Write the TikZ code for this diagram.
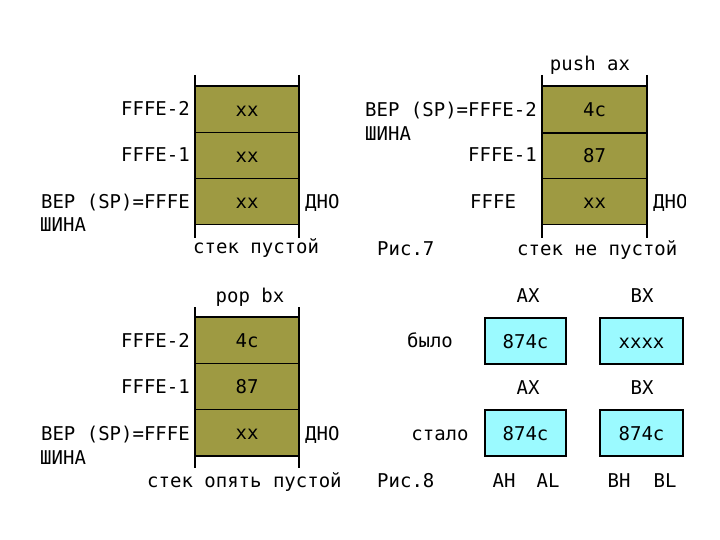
\documentclass[tikz,border=0pt]{standalone}
\usepackage{fontspec}
\setmainfont{DejaVu Sans Mono}
\definecolor{stackolive}{RGB}{158,154,66}
\definecolor{regcyan}{RGB}{155,250,255}

\begin{document}
\begin{tikzpicture}[x=1pt,y=-1pt,
  every node/.style={font=\fontsize{19}{21}\selectfont, inner sep=0pt,
    text height=14pt, text depth=0pt},
  cell/.style={draw, line width=1.2pt, fill=stackolive, minimum width=103pt,
    minimum height=46pt, anchor=north west},
  wall/.style={line width=2.4pt},
  reg/.style={draw, line width=2pt, fill=regcyan, minimum width=81pt,
    minimum height=46pt, anchor=north west}]
\useasboundingbox (0,0) rectangle (720,540);

% stack before push
\foreach \t [count=\i] in {xx,xx,xx}
  \node[cell] (s1c\i) at (195,{86+46*(\i-1)}) {\t};
\draw[wall] ([yshift=11pt]s1c1.north west) -- ([yshift=-13pt]s1c3.south west);
\draw[wall] ([yshift=11pt]s1c1.north east) -- ([yshift=-13pt]s1c3.south east);
\draw[wall] (s1c1.north west) -- (s1c1.north east);
\node[anchor=east] (s1a2) at (190,109) {FFFE-2};
\node[anchor=east] (s1a1) at (190,155) {FFFE-1};
\node[anchor=east] (s1a0) at (190,202) {ВЕР (SP)=FFFE};
\node[anchor=west] (s1bus) at (40,225) {ШИНА};
\node[anchor=west] (s1bot) at (305,202) {ДНО};
\node[anchor=west] (s1cap) at (193,247) {стек пустой};

% stack after push ax
\foreach \t [count=\i] in {4c,87,xx}
  \node[cell, minimum width=104pt] (s2c\i) at (542,{86+46*(\i-1)}) {\t};
\draw[wall] ([yshift=11pt]s2c1.north west) -- ([yshift=-13pt]s2c3.south west);
\draw[wall] ([yshift=11pt]s2c1.north east) -- ([yshift=-13pt]s2c3.south east);
\draw[wall] (s2c1.north west) -- (s2c1.north east);
\draw[wall] (s2c1.south west) -- (s2c1.south east);
\node (s2op) at (590,64) {push ax};
\node[anchor=east] (s2a2) at (537,110) {ВЕР (SP)=FFFE-2};
\node[anchor=west] (s2bus) at (365,134) {ШИНА};
\node[anchor=east] (s2a1) at (537,155) {FFFE-1};
\node[anchor=west] (s2a0) at (470,202) {FFFE};
\begin{scope}
  \clip (640,180) rectangle (685,225);
  \node[anchor=west] (s2bot) at (653,202) {ДНО};
\end{scope}
\node[anchor=west] (fig7) at (377,248) {Рис.7};
\node[anchor=west] (s2cap) at (517,248) {стек не пустой};

% stack after pop bx
\foreach \t [count=\i] in {4c,87,xx}
  \node[cell] (s3c\i) at (195,{317+46*(\i-1)}) {\t};
\draw[wall] ([yshift=10pt]s3c1.north west) -- ([yshift=-12pt]s3c3.south west);
\draw[wall] ([yshift=10pt]s3c1.north east) -- ([yshift=-12pt]s3c3.south east);
\draw[wall] (s3c1.north west) -- (s3c1.north east);
\draw[wall] (s3c3.south west) -- (s3c3.south east);
\node (s3op) at (250,295) {pop bx};
\node[anchor=east] (s3a2) at (190,340) {FFFE-2};
\node[anchor=east] (s3a1) at (190,386) {FFFE-1};
\node[anchor=east] (s3a0) at (190,433) {ВЕР (SP)=FFFE};
\node[anchor=west] (s3bus) at (40,457) {ШИНА};
\node[anchor=west] (s3bot) at (305,433) {ДНО};
\node[anchor=west] (s3cap) at (147,480) {стек опять пустой};

% registers
\node[reg] (axold) at (484,317) {874c};
\node[reg, minimum width=83pt] (bxold) at (599,317) {xxxx};
\node[reg] (axnew) at (484,409) {874c};
\node[reg, minimum width=83pt] (bxnew) at (599,409) {874c};
\node (axoldl) at (528,295) {AX};
\node (bxoldl) at (642,295) {BX};
\node (axnewl) at (528,387) {AX};
\node (bxnewl) at (642,387) {BX};
\node (was) at (430,340) {было};
\node (now) at (440,433) {стало};
\node[anchor=west] (fig8) at (377,480) {Рис.8};
\node (ah) at (504,480) {AH};
\node (al) at (548,480) {AL};
\node (bh) at (619,480) {BH};
\node (bl) at (665,480) {BL};

\end{tikzpicture}
\end{document}
